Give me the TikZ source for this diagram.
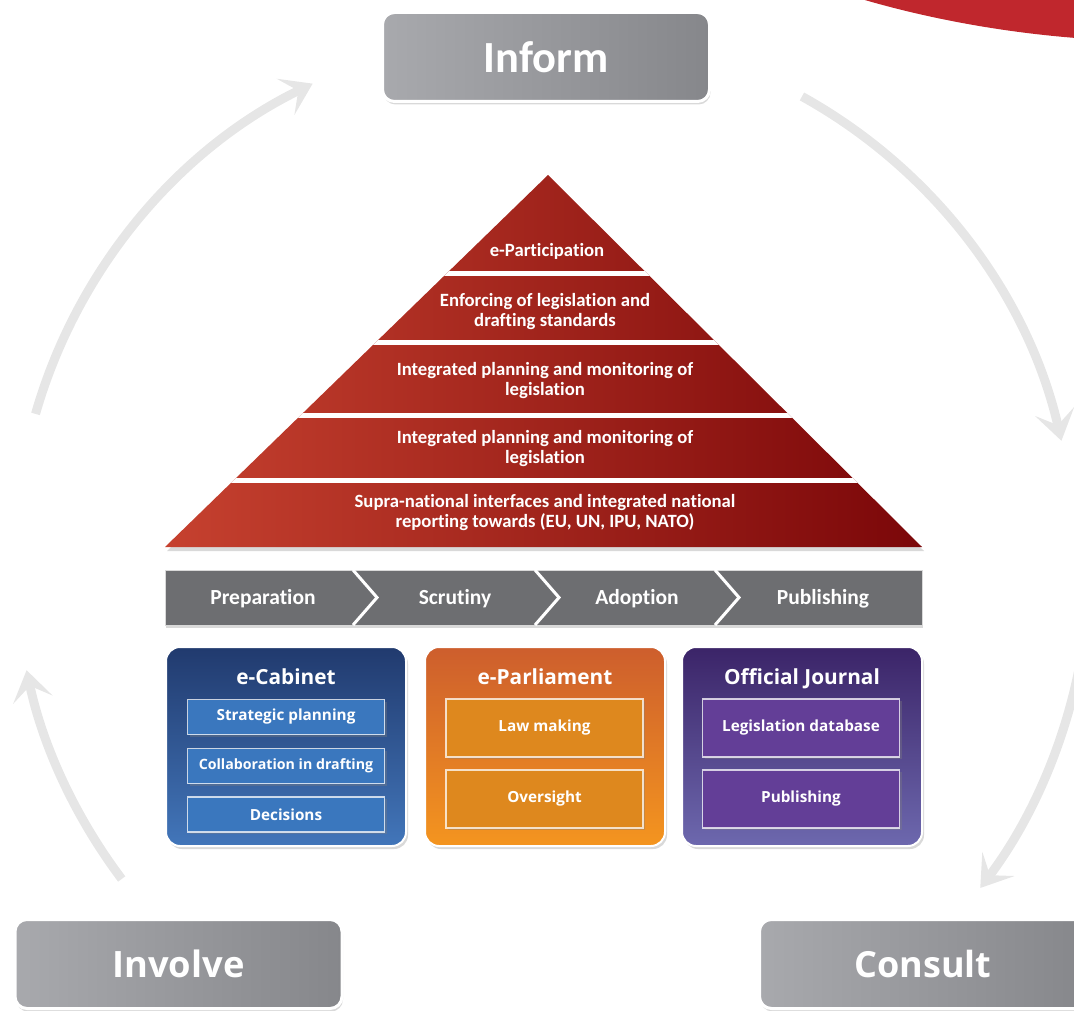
\documentclass[tikz,border=0pt]{standalone}
\usepackage{fontspec}
\setmainfont[Ligatures=NoCommon, RawFeature={-liga;-clig}]{Carlito}
\newfontfamily\boxfont{Open Sans}
\usetikzlibrary{calc}
\usetikzlibrary{positioning}
\usetikzlibrary{shadows}
\usetikzlibrary{arrows.meta}

\definecolor{stageleft}{HTML}{A8A9AD}
\definecolor{stageright}{HTML}{86878B}
\definecolor{arcgray}{HTML}{E6E6E6}
\definecolor{pyrleft}{HTML}{C6412F}
\definecolor{pyrright}{HTML}{7B0709}
\definecolor{barfill}{HTML}{6D6E71}
\definecolor{topred}{HTML}{C0272D}
\definecolor{cabtop}{HTML}{213A6E}
\definecolor{cabbot}{HTML}{4276BA}
\definecolor{cabsub}{HTML}{3A77BE}
\definecolor{parltop}{HTML}{CD5E2D}
\definecolor{parlbot}{HTML}{F4951F}
\definecolor{parlsub}{HTML}{DE881E}
\definecolor{ojtop}{HTML}{3B2468}
\definecolor{ojbot}{HTML}{6D68AE}
\definecolor{ojsub}{HTML}{633E97}

\tikzset{
  stagebox/.style={rounded corners=12pt, draw=white, line width=3pt,
    left color=stageleft, right color=stageright,
    minimum width=327pt, minimum height=89pt, text=white,
    drop shadow={opacity=.3, shadow xshift=1pt, shadow yshift=-3pt}},
  cyclearrow/.style={draw=arcgray, line width=9pt,
    -{Stealth[length=30pt, width=40pt, inset=14pt]}},
  layertext/.style={text=white, align=center,
    font=\bfseries\fontsize{18.7}{20}\selectfont},
  phasetext/.style={text=white, font=\bfseries\fontsize{21.5}{21.5}\selectfont},
  sepline/.style={draw=white, line width=3pt},
  groupbox/.style n args={2}{rounded corners=14pt, draw=white, line width=2pt,
    top color=#1, bottom color=#2, minimum width=240pt, minimum height=199pt,
    drop shadow={opacity=.3, shadow xshift=2pt, shadow yshift=-3pt}},
  grouptitle/.style={text=white, anchor=base,
    font=\boxfont\bfseries\fontsize{20.8}{20.8}\selectfont},
  subbox/.style={fill=#1, draw=white, draw opacity=.75, line width=1.5pt,
    minimum width=197pt, text=white,
    font=\boxfont\bfseries\fontsize{15.3}{15.3}\selectfont,
    drop shadow={opacity=.35, shadow xshift=2pt, shadow yshift=-2pt}}
}

\begin{document}
\begin{tikzpicture}[x=1pt, y=-1pt]
  \path[use as bounding box, clip] (0,0) rectangle (1074,1011);

  % Red corner shape at the top right
  \fill[topred] (858,-2) .. controls (925,18) and (1000,32) .. (1076,38) -- (1076,-2) -- cycle;

  % Centre of the cycle arrows
  \coordinate (hub) at (545,560);
  \coordinate (arcA) at ($(hub)+(196:530)$);
  \coordinate (arcB) at ($(hub)+(299:530)$);
  \coordinate (arcC) at ($(hub)+(8:545)$);
  \coordinate (arcD) at ($(hub)+(143:530)$);

  % Cycle arrows
  \draw[cyclearrow] (arcA) arc[start angle=196, end angle=244, radius=530];
  \draw[cyclearrow] (arcB) arc[start angle=299, end angle=347, radius=530];
  \draw[cyclearrow] (arcC) arc[start angle=8, end angle=37, radius=545];
  \draw[cyclearrow] (arcD) arc[start angle=143, end angle=168, radius=530];

  % Stage boxes
  \node[stagebox, font=\bfseries\fontsize{44.5}{44.5}\selectfont] (inform) at (546,57) {Inform};
  \node[stagebox, font=\boxfont\bfseries\fontsize{36.3}{36.3}\selectfont] (involve) at (178.5,964) {Involve};
  \node[stagebox, font=\boxfont\bfseries\fontsize{36}{36}\selectfont] (consult) at (923,964) {Consult};

  % Pyramid
  \coordinate (apex) at (548,175);
  \coordinate (pbl) at (165,547);
  \coordinate (pbr) at (922,547);
  \path[left color=pyrleft, right color=pyrright,
    drop shadow={opacity=.3, shadow xshift=2pt, shadow yshift=-4pt}]
    (apex) -- (pbl) -- (pbr) -- cycle;
  \begin{scope}
    \clip (apex) -- (pbl) -- (pbr) -- cycle;
    \foreach \yy in {274,342.5,415,480.5}
      \draw[white, line width=5pt] (150,\yy) -- (940,\yy);
  \end{scope}

  % Pyramid layers
  \node[layertext] (lay1) at (547,251) {e-Participation};
  \node[layertext] (lay2) at (545,312) {Enforcing of legislation and\\drafting standards};
  \node[layertext] (lay3) at (545,381) {Integrated planning and monitoring of\\legislation};
  \node[layertext] (lay4) at (545,449) {Integrated planning and monitoring of\\legislation};
  \node[layertext] (lay5) at (545,513) {Supra-national interfaces and integrated national\\reporting towards (EU, UN, IPU, NATO)};

  % Phase bar
  \fill[barfill, draw=white!85!black, line width=1pt,
    drop shadow={opacity=.3, shadow xshift=1pt, shadow yshift=-3pt}]
    (165,570) rectangle (922,625);
  \foreach \cx in {353,535,715}
    \draw[sepline] (\cx,570) -- ++(24,27.5) -- ++(-24,27.5);
  \foreach \name/\lbl/\cx in {prep/Preparation/263, scru/Scrutiny/455,
      adop/Adoption/637, publ/Publishing/823}
    \node[phasetext] (\name) at (\cx,598.5) {\lbl};

  % e-Cabinet
  \node[groupbox={cabtop}{cabbot}] (cabinet) at (286,746.5) {};
  \node[grouptitle] (cabtitle) at (286,684) {e-Cabinet};
  \node[subbox=cabsub, minimum height=35pt] (strat) at (286,717) {Strategic planning};
  \node[subbox=cabsub, minimum height=35pt, font=\boxfont\bfseries\fontsize{14.2}{14.2}\selectfont] (collab) at (286,766) {Collaboration in drafting};
  \node[subbox=cabsub, minimum height=35pt] (decis) at (286,814.5) {Decisions};

  % e-Parliament
  \node[groupbox={parltop}{parlbot}] (parliament) at (545,746.5) {};
  \node[grouptitle] (parltitle) at (545,684) {e-Parliament};
  \node[subbox=parlsub, minimum height=58pt] (lawmk) at (544.5,728) {Law making};
  \node[subbox=parlsub, minimum height=58pt] (oversi) at (544.5,799) {Oversight};

  % Official Journal
  \node[groupbox={ojtop}{ojbot}] (journal) at (802,746.5) {};
  \node[grouptitle] (ojtitle) at (802,684) {Official Journal};
  \node[subbox=ojsub, minimum height=58pt] (legdb) at (801,728) {Legislation database};
  \node[subbox=ojsub, minimum height=58pt] (ojpub) at (801,799) {Publishing};

\end{tikzpicture}
\end{document}
